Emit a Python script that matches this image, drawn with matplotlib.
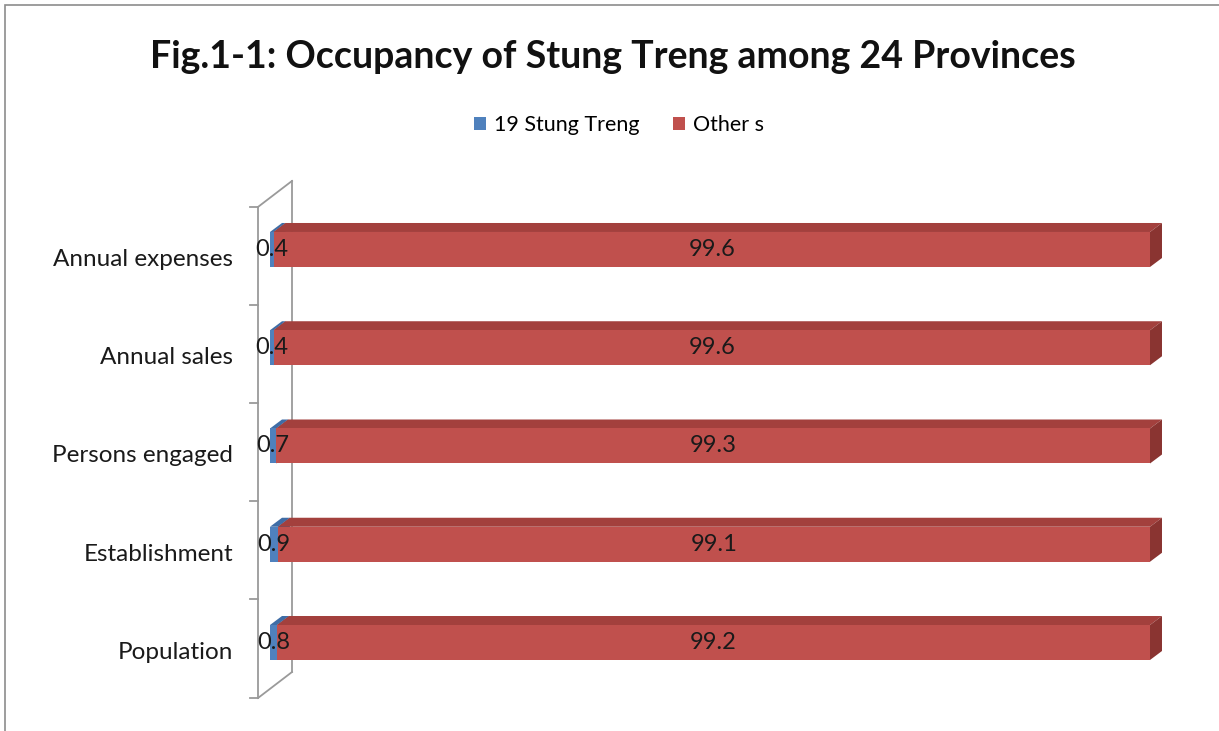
import numpy as np
import matplotlib
matplotlib.use("Agg")
import matplotlib.pyplot as plt
from matplotlib.patches import Polygon, Patch, Rectangle

categories = ["Population", "Establishment", "Persons engaged", "Annual sales", "Annual expenses"]
stung_treng = [0.8, 0.9, 0.7, 0.4, 0.4]
others = [99.2, 99.1, 99.3, 99.6, 99.6]
series_names = ["19 Stung Treng", "Other s"]

BLUE, RED = "#4F81BD", "#C0504D"
TOP = {BLUE: "#3F6DA6", RED: "#A3403D"}
SIDE = {BLUE: "#345A8A", RED: "#8A3431"}
FONT = ["Lato", "DejaVu Sans"]

W, H = 1219, 731
fig = plt.figure(figsize=(W / 100, H / 100), dpi=100)
plt.rcParams["font.family"] = FONT

# axes placed in pixels
L, R, T, B = 240, 1180, 170, 710
ax = fig.add_axes([L / W, 1 - B / H, (R - L) / W, (B - T) / H])
ax.set_xlim(-3.409, 103.41)
ax.set_ylim(-0.687, 4.809)
ax.axis("off")

px_x = 8.8      # px per x unit
px_y = 98.25    # px per category
bdx, bdy = 12 / px_x, 9 / px_y          # bar depth
wdx, wdy = 34 / px_x, 26 / px_y         # wall depth
bh = 35 / px_y

# side wall
wx0, wy_top, wy_bot = -12 / px_x, 4.433, -0.565
wall = "#9a9a9a"
ax.plot([wx0, wx0], [wy_bot, wy_top], color=wall, lw=1.3, clip_on=False)
ax.plot([wx0 + wdx, wx0 + wdx], [wy_bot + wdy, wy_top + wdy], color=wall, lw=1.3, clip_on=False)
ax.plot([wx0, wx0 + wdx], [wy_top, wy_top + wdy], color=wall, lw=1.3, clip_on=False)
ax.plot([wx0, wx0 + wdx], [wy_bot, wy_bot + wdy], color=wall, lw=1.3, clip_on=False)
for i in range(-1, 5):
    yb = i + 0.44 if i < 4 else wy_top
    if i == -1:
        yb = wy_bot
    ax.plot([wx0 - 8 / px_x, wx0], [yb, yb], color=wall, lw=1.3, clip_on=False)

y = np.arange(len(categories))


def box(left, width, yc, color):
    y0, y1 = yc - bh / 2, yc + bh / 2
    x1 = left + width
    ax.add_patch(Polygon([(left, y1), (left + bdx, y1 + bdy), (x1 + bdx, y1 + bdy), (x1, y1)],
                         closed=True, fc=TOP[color], ec="none", zorder=2))
    ax.add_patch(Polygon([(x1, y0), (x1 + bdx, y0 + bdy), (x1 + bdx, y1 + bdy), (x1, y1)],
                         closed=True, fc=SIDE[color], ec="none", zorder=2))


for i in range(len(categories)):
    box(0, stung_treng[i], y[i], BLUE)
for i in range(len(categories)):
    box(stung_treng[i], others[i], y[i], RED)
ax.barh(y, stung_treng, height=bh, color=BLUE, zorder=3)
ax.barh(y, others, left=stung_treng, height=bh, color=RED, zorder=3)

for i in range(len(categories)):
    ax.text(stung_treng[i] / 2, y[i], f"{stung_treng[i]}", ha="center", va="center",
            fontsize=17, color="#1a1a1a", zorder=5)
    ax.text(stung_treng[i] + others[i] / 2, y[i], f"{others[i]}", ha="center", va="center",
            fontsize=17, color="#1a1a1a", zorder=5)
    ax.text(-37 / px_x, y[i] - 10 / px_y, categories[i], ha="right", va="center",
            fontsize=17.5, color="#1a1a1a", clip_on=False)

fig.text(613 / W, 1 - 57 / H, "Fig.1-1: Occupancy of Stung Treng among 24 Provinces",
         ha="center", va="center", fontsize=27, fontweight="bold", color="#111111")

handles = [Patch(fc=BLUE), Patch(fc=RED)]
fig.legend(handles, series_names, loc="center", bbox_to_anchor=(619 / W, 1 - 125 / H),
           ncol=2, frameon=False, fontsize=15.5, handlelength=0.55, handleheight=0.55,
           handletextpad=0.35, columnspacing=1.6)

fig.add_artist(Rectangle((5 / W, -0.1), 1.2, 1.1 - 5 / H, transform=fig.transFigure,
                         fill=False, ec="#8c8c8c", lw=1.2))

fig.savefig("out.png", dpi=100)
